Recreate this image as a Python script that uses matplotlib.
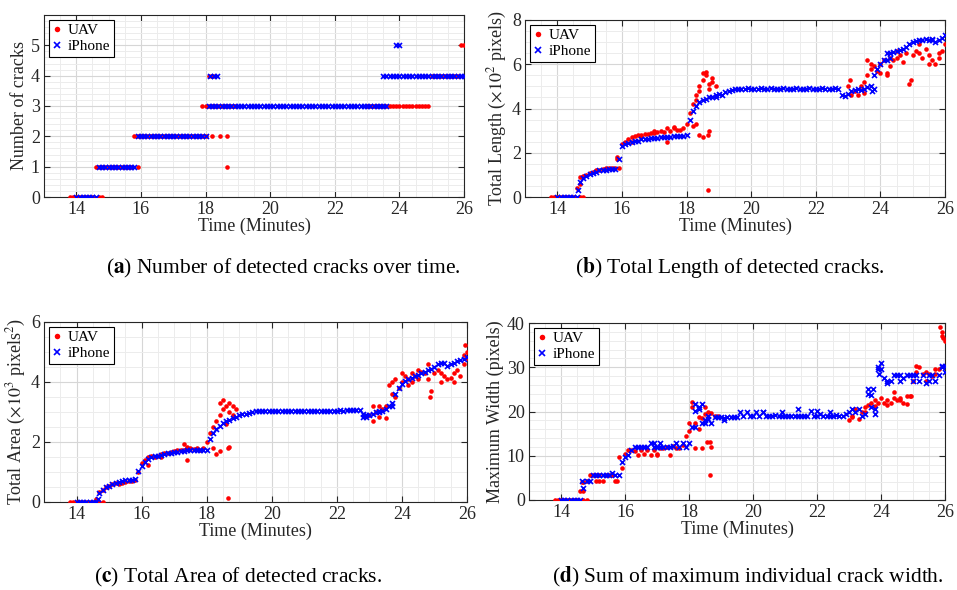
import numpy as np
import matplotlib
matplotlib.use("Agg")
import matplotlib.pyplot as plt
from matplotlib.ticker import MultipleLocator

plt.rcParams['font.family'] = ['Liberation Serif', 'DejaVu Serif']
plt.rcParams['mathtext.fontset'] = 'stix'

# sampled frame times (minutes); the UAV log has a gap between 19 and 23 min
uav_t = np.concatenate([np.arange(138, 190), np.arange(230, 261)]) / 10.0
iph_t = np.arange(140, 261) / 10.0

# ---------------- (a) number of cracks ----------------
uav_count = [0]*8 + [1]*12 + [2]*21 + [3]*11 + [3]*20 + [4]*9 + [5]*2
uav_count_extra = [(14.7, 0), (14.8, 0), (15.9, 1), (17.9, 2), (18.0, 2), (18.2, 2), (18.45, 2),
                   (18.65, 2), (18.65, 1), (18.1, 4), (18.2, 4), (18.3, 4)]
iph_count = [0]*7 + [1]*12 + [2]*22 + [3]*54 + [4]*4 + [5]*2 + [4]*20
iph_count_extra = [(18.15, 4), (18.25, 4), (18.35, 4), (23.5, 3), (23.6, 3), (23.9, 4), (24.0, 4)]

# ---------------- (b) total length (x100 px) ----------------
uav_len = [0]*8 + [
    0.4, 0.9, 0.95, 1.0, 1.1, 1.15, 1.2, 1.2, 1.25, 1.3, 1.3, 1.3, 1.3, 1.3,
    2.4, 2.5, 2.6, 2.7, 2.75, 2.8, 2.8, 2.85, 2.85, 2.9, 2.9, 2.95, 3.0, 2.95, 3.1, 3.0,
    3.1, 3.05, 3.05, 3.1, 3.3, 3.8, 4.2, 4.6, 5.0, 5.3, 5.5, 4.9, 5.2, 5.0,
    5.0, 4.6, 4.8, 4.6, 5.0, 4.7, 5.5, 6.0, 5.9, 5.7, 6.0, 6.2, 5.6, 6.3, 6.2, 6.3,
    6.4, 6.1, 6.5, 5.1, 6.4, 6.6, 6.5, 6.3, 6.7, 6.4, 6.2, 6.0, 6.5, 6.6, 6.9]
uav_len_extra = [(14.7, 0), (14.8, 0), (14.7, 0.6), (15.85, 1.8), (15.85, 1.7), (16.3, 2.5), (16.6, 2.7),
                 (17.0, 3.0), (17.4, 2.5), (17.6, 3.15), (18.2, 3.2), (18.3, 3.3), (18.4, 2.8),
                 (18.5, 2.7), (18.65, 0.3), (18.65, 2.8), (18.7, 3.0), (18.4, 4.8), (18.5, 5.6),
                 (18.6, 5.65), (18.3, 4.4), (18.7, 5.1), (18.8, 5.4), (23.05, 5.3), (23.5, 5.2),
                 (23.6, 6.2), (23.7, 5.8), (24.0, 5.6), (24.2, 5.5), (24.3, 5.9), (24.5, 6.6),
                 (24.95, 5.3), (25.2, 6.9), (25.5, 6.0), (25.8, 6.3)]
iph_len = [0]*7 + [
    0.7, 0.85, 0.95, 1.05, 1.1, 1.15, 1.2, 1.2, 1.22, 1.25, 1.25, 1.27, 1.7,
    2.3, 2.4, 2.45, 2.5, 2.55, 2.55, 2.6, 2.6, 2.62, 2.65, 2.65, 2.68, 2.7, 2.7, 2.72,
    2.72, 2.75, 2.75, 2.76, 2.75, 2.78, 3.5, 3.9, 4.1, 4.3, 4.4, 4.45, 4.5, 4.5, 4.6,
    4.65, 4.6, 4.75, 4.8, 4.85, 4.88, 4.9] + [
    4.88, 4.9, 4.92, 4.9, 4.88, 4.9, 4.92, 4.9, 4.89, 4.91, 4.9, 4.88, 4.9, 4.92, 4.9, 4.89,
    4.9, 4.91, 4.9, 4.88, 4.9, 4.92, 4.9, 4.89, 4.9, 4.91, 4.9, 4.88, 4.9, 4.92, 4.9] + [
    4.6, 4.55, 4.65, 4.8, 4.85, 4.9, 4.85, 4.9, 4.95, 5.0, 5.5, 5.8, 6.0, 6.2, 6.5, 6.5,
    6.55, 6.6, 6.65, 6.7, 6.8, 6.9, 7.0, 7.05, 7.1, 7.1, 7.15, 7.1, 7.1, 7.0, 7.1, 7.2, 7.3]
iph_len_extra = [(14.65, 0.3), (18.9, 4.5), (23.75, 4.8), (23.8, 4.9), (24.2, 6.2), (24.3, 6.3),
                 (25.6, 7.15)]

# ---------------- (c) total area (x1000 px^2) ----------------
uav_area = [0]*8 + [
    0.1, 0.35, 0.4, 0.5, 0.55, 0.6, 0.62, 0.6, 0.65, 0.68, 0.7, 0.7, 0.72, 1.0,
    1.3, 1.4, 1.5, 1.55, 1.5, 1.55, 1.6, 1.62, 1.65, 1.68, 1.7, 1.72, 1.75, 1.72, 1.85, 1.8,
    1.78, 1.8, 1.75, 1.8, 2.0, 2.3, 2.5, 2.7, 2.9, 3.1, 3.2, 3.0, 3.2, 3.1,
    2.9, 2.7, 3.0, 2.85, 3.1, 3.2, 3.9, 4.0, 4.1, 3.8, 4.0, 4.2, 4.1, 4.3, 4.2, 4.1,
    4.35, 4.3, 4.1, 3.7, 4.3, 4.4, 4.3, 4.2, 4.1, 4.15, 4.3, 4.4, 4.2, 4.9, 5.0]
uav_area_extra = [(14.7, 0), (14.8, 0), (16.2, 1.25), (16.6, 1.5), (17.3, 1.95), (17.4, 1.4),
                  (18.2, 1.8), (18.3, 1.6), (18.4, 1.7), (18.65, 0.15), (18.65, 1.8), (18.7, 1.85),
                  (18.4, 3.3), (18.5, 3.4), (18.6, 2.6), (18.7, 3.3), (18.8, 2.9), (23.1, 3.2),
                  (23.3, 3.2), (23.5, 2.8), (23.7, 3.6), (23.8, 3.5), (24.0, 4.3), (24.2, 3.9),
                  (24.3, 4.0), (24.5, 4.4), (24.8, 4.6), (24.85, 3.5), (25.2, 4.0), (25.6, 4.0),
                  (25.9, 4.6), (25.95, 5.25), (26.0, 4.8)]
iph_area = [0]*7 + [
    0.3, 0.4, 0.5, 0.55, 0.6, 0.65, 0.68, 0.7, 0.72, 0.74, 0.75, 0.76, 1.05,
    1.2, 1.35, 1.45, 1.5, 1.52, 1.55, 1.58, 1.6, 1.62, 1.65, 1.66, 1.68, 1.7, 1.7, 1.72,
    1.72, 1.73, 1.73, 1.74, 1.74, 1.75, 2.1, 2.3, 2.45, 2.55, 2.65, 2.7, 2.75, 2.8, 2.85,
    2.9, 2.92, 2.95, 2.98, 3.0, 3.02, 3.03] + [
    3.04, 3.05, 3.03, 3.04, 3.05, 3.04, 3.03, 3.04, 3.05, 3.03, 3.04, 3.03, 3.02, 3.03, 3.04,
    3.03, 3.02, 3.03, 3.04, 3.03, 3.04, 3.05, 3.04, 3.05, 3.06, 3.05, 3.06, 3.07, 3.06, 3.07,
    3.08] + [
    2.85, 2.85, 2.9, 2.95, 3.0, 3.0, 3.05, 3.1, 3.2, 3.3, 3.6, 3.8, 3.95, 4.05, 4.1, 4.15,
    4.2, 4.25, 4.3, 4.35, 4.4, 4.45, 4.5, 4.6, 4.65, 4.65, 4.55, 4.6, 4.65, 4.7, 4.75, 4.78, 4.82]
iph_area_extra = [(14.65, 0.1), (22.8, 2.95), (22.9, 2.9), (23.3, 3.05), (23.7, 3.2)]

# ---------------- (d) maximum width (px) ----------------
uav_width = [0]*8 + [
    2.0, 4.0, 4.3, 5.6, 5.6, 5.6, 5.6, 4.4, 5.6, 5.6, 5.6, 4.4,
    9.7, 7.3, 10.5, 11.3, 11.3, 11.0, 10.2, 11.3, 10.5, 11.3, 10.2, 11.3,
    10.4, 11.8, 11.8, 12.0, 10.2, 12.1, 11.8, 11.8, 12.5, 14.5,
    17.3, 22.2, 17.3, 16.0, 18.5, 21.0, 20.0, 19.6, 19.0, 19.0,
    18.0, 19.0, 20.5, 18.2, 20.0, 21.0, 21.5, 22.0, 22.5, 22.0, 23.0, 22.0, 22.5, 22.0, 23.0,
    22.5, 23.0, 22.0, 23.5, 23.5, 27.0, 29.0, 30.0, 28.5, 29.0, 28.5, 28.0, 28.5, 29.5, 37.0, 36.0]
uav_width_extra = [(14.7, 0), (14.8, 0), (14.65, 4.0), (14.7, 2.0), (15.1, 4.4), (15.2, 4.4),
                   (15.75, 4.4), (17.0, 10.2), (18.0, 15.6), (18.1, 21.0), (18.2, 11.7), (18.3, 18.7),
                   (18.4, 11.7), (18.5, 19.5), (18.55, 13.2), (18.65, 5.7), (18.65, 13.2),
                   (18.7, 12.0), (23.1, 18.7), (23.5, 20.0), (23.8, 21.2), (24.2, 21.5),
                   (24.4, 24.5), (24.6, 22.5), (24.8, 21.7), (24.95, 23.5), (25.1, 30.2),
                   (25.4, 27.0), (25.7, 29.5), (25.85, 39.0), (25.9, 38.0), (25.95, 36.5)]
iph_width = [0]*7 + [
    2.8, 4.4, 4.4, 5.7, 5.7, 5.7, 5.7, 5.7, 5.7, 6.0, 5.7, 5.7,
    8.5, 9.7, 10.2, 11.3, 11.9, 11.9, 11.9, 11.9, 11.9, 12.9, 11.9,
    11.9, 12.9, 11.9, 11.9, 11.9, 12.3, 12.9, 11.9, 12.9, 11.9,
    12.9, 16.5, 20.2, 20.5, 17.5, 18.0, 18.2, 17.5, 18.8, 18.8,
    18.8, 18.5, 18.8, 18.8, 18.8, 18.8, 19.8] + [
    18.9, 19.8, 18.9, 18.9, 19.8, 18.9, 19.8, 18.9, 18.9, 18.9, 19.3, 18.9, 18.9, 18.9, 19.0,
    18.9, 18.9, 18.9, 18.9, 18.9, 18.9, 20.2, 19.0, 18.9, 19.5, 18.9, 18.9, 18.9, 18.9, 19.1,
    18.9] + [
    19.0, 19.5, 20.0, 20.5, 19.8, 20.5, 19.0, 19.5, 25.0, 23.8, 20.5, 29.5, 31.0, 27.5, 26.5,
    27.0, 28.2, 28.2, 28.2, 27.5, 28.2, 28.2, 26.8, 28.2, 27.0, 28.2, 26.5, 27.0, 28.2, 27.0,
    28.2, 30.2, 29.0]
iph_width_extra = [(14.65, 4.4), (16.9, 12.9), (17.1, 12.0), (18.2, 21.8), (18.3, 21.0),
                   (18.4, 21.8), (18.5, 17.5), (18.2, 16.5), (18.6, 19.0), (19.1, 18.0),
                   (20.3, 19.8), (20.9, 19.8), (21.4, 20.6), (22.0, 20.2), (22.4, 19.8),
                   (23.6, 24.0), (23.7, 21.0), (23.75, 25.0), (23.8, 19.5), (23.9, 30.0),
                   (23.95, 28.5), (24.0, 29.5), (24.2, 27.0), (24.6, 27.0), (25.0, 28.2),
                   (25.5, 28.2), (25.9, 30.0), (26.0, 30.2)]

x_ticks = [14, 16, 18, 20, 22, 24, 26]

W, H = 957, 590
fig = plt.figure(figsize=(W / 100, H / 100), dpi=100)


def add_axes_px(left, top, right, bottom):
    return fig.add_axes([left / W, 1 - bottom / H, (right - left) / W, (bottom - top) / H])


def draw_panel(ax, uav_v, uav_x, iph_v, iph_x, ylim, yticks, yminor, ylabel):
    ax.plot(uav_t, uav_v, 'o', color='red', ms=3.3, mew=0, label='UAV', zorder=3)
    ex = np.array(uav_x)
    ax.plot(ex[:, 0], ex[:, 1], 'o', color='red', ms=3.3, mew=0, zorder=3)
    ax.plot(iph_t, iph_v, 'x', color='blue', ms=3.6, mew=1.2, label='iPhone', zorder=4)
    ex = np.array(iph_x)
    ax.plot(ex[:, 0], ex[:, 1], 'x', color='blue', ms=3.6, mew=1.2, zorder=4)

    ax.set_xlim(13, 26)
    ax.set_ylim(*ylim)
    ax.set_xticks(x_ticks)
    ax.set_yticks(yticks)
    ax.xaxis.set_minor_locator(MultipleLocator(0.5))
    ax.yaxis.set_minor_locator(MultipleLocator(yminor))
    ax.grid(True, which='major', color='#d6d6d6', lw=0.8)
    ax.grid(True, which='minor', color='#ececec', lw=0.7)
    ax.set_axisbelow(True)
    ax.tick_params(which='major', direction='in', length=4, top=True, right=True,
                   labelsize=13, colors='#262626', width=0.8, pad=3)
    ax.tick_params(which='minor', length=0)
    for s in ax.spines.values():
        s.set_color('#262626')
        s.set_linewidth(0.8)
    ax.set_xlabel('Time (Minutes)', fontsize=13, color='#262626', labelpad=0)
    ax.set_ylabel(ylabel, fontsize=13, color='#262626', labelpad=2)
    leg = ax.legend(loc='upper left', fontsize=11, frameon=True, fancybox=False,
                    edgecolor='black', framealpha=1, borderpad=0.25, handlelength=0.6,
                    handletextpad=0.4, labelspacing=0.15, borderaxespad=0.3, markerscale=1.2)
    leg.get_frame().set_linewidth(0.8)


ax_a = add_axes_px(44, 15, 464, 197)
draw_panel(ax_a, uav_count, uav_count_extra, iph_count, iph_count_extra,
           (0, 6), [0, 1, 2, 3, 4, 5], 0.2, 'Number of cracks')

ax_b = add_axes_px(525, 20, 945, 197)
draw_panel(ax_b, uav_len, uav_len_extra, iph_len, iph_len_extra,
           (0, 8), [0, 2, 4, 6, 8], 0.5, r'Total Length ($\times 10^2$ pixels)')

ax_c = add_axes_px(44, 322, 467, 502)
draw_panel(ax_c, uav_area, uav_area_extra, iph_area, iph_area_extra,
           (0, 6), [0, 2, 4, 6], 0.5, r'Total Area ($\times 10^3$ pixels$^2$)')

ax_d = add_axes_px(529, 323, 945, 500)
draw_panel(ax_d, uav_width, uav_width_extra, iph_width, iph_width_extra,
           (0, 40), [0, 10, 20, 30, 40], 2, 'Maximum Width (pixels)')

cap_kw = dict(fontsize=15.5, ha='center', va='center', color='black')
fig.text(283 / W, 1 - 268 / H, r'($\mathbf{a}$) Number of detected cracks over time.', **cap_kw)
fig.text(730 / W, 1 - 268 / H, r'($\mathbf{b}$) Total Length of detected cracks.', **cap_kw)
fig.text(238 / W, 1 - 577 / H, r'($\mathbf{c}$) Total Area of detected cracks.', **cap_kw)
fig.text(748 / W, 1 - 577 / H, r'($\mathbf{d}$) Sum of maximum individual crack width.', **cap_kw)

fig.savefig('out.png', dpi=100)
